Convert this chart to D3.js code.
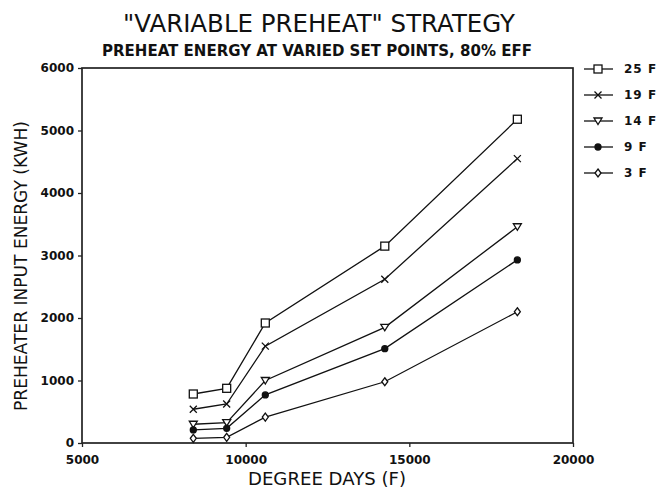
<!DOCTYPE html>
<html><head><meta charset="utf-8">
<script src="https://cdn.jsdelivr.net/npm/d3@7"></script>
<style>body{margin:0;background:#fff}svg{display:block}text{font-family:"DejaVu Sans",sans-serif;fill:#111}</style>
</head><body><svg id="c" width="665" height="493"></svg>
<script>
const degreeDays = [8400, 9420, 10600, 14250, 18300];
const seriesNames = ["25 F", "19 F", "14 F", "9 F", "3 F"];
const s25 = [784, 875, 1920, 3150, 5180];
const s19 = [540, 624, 1550, 2620, 4550];
const s14 = [300, 325, 1000, 1850, 3460];
const s9 = [210, 235, 770, 1510, 2930];
const s3 = [75, 91, 415, 980, 2100];
const xTicks = [5000, 10000, 15000, 20000];
const yTicks = [0, 1000, 2000, 3000, 4000, 5000, 6000];
const markers = ["square", "x", "triangle", "dot", "diamond"];
const series = [s25, s19, s14, s9, s3];

const svg = d3.select("#c");
const x = d3.scaleLinear().domain([5000, 20000]).range([82, 573]);
const y = d3.scaleLinear().domain([0, 6000]).range([443, 68]);

svg.append("rect").attr("x", 82).attr("y", 68).attr("width", 573-82).attr("height", 443-68)
  .attr("fill", "none").attr("stroke", "#222").attr("stroke-width", 1.7);

const xa = svg.append("g").attr("transform", "translate(0,443)")
  .call(d3.axisBottom(x).tickValues(xTicks).tickSize(4).tickPadding(6).tickFormat(d3.format("d")));
const ya = svg.append("g").attr("transform", "translate(82,0)")
  .call(d3.axisLeft(y).tickValues(yTicks).tickSize(4).tickPadding(4).tickFormat(d3.format("d")));
[xa, ya].forEach(a => {
  a.select(".domain").remove();
  a.selectAll("line").attr("stroke", "#222").attr("stroke-width", 1.3);
  a.selectAll("text").attr("font-family", "DejaVu Sans").attr("font-size", 12).attr("font-weight", "bold").attr("fill", "#111");
});
xa.selectAll("text").attr("dy", "0.9em");

function drawMarker(g, type, cx, cy) {
  let m;
  if (type === "square") m = g.append("rect").attr("x", cx-4).attr("y", cy-4).attr("width", 8).attr("height", 8).attr("fill", "#fff");
  else if (type === "x") m = g.append("path").attr("d", `M${cx-3.5},${cy-3.5}L${cx+3.5},${cy+3.5}M${cx-3.5},${cy+3.5}L${cx+3.5},${cy-3.5}`).attr("fill", "none");
  else if (type === "triangle") m = g.append("path").attr("d", `M${cx-4},${cy-3}L${cx+4},${cy-3}L${cx},${cy+3.5}Z`).attr("fill", "#fff");
  else if (type === "dot") m = g.append("circle").attr("cx", cx).attr("cy", cy).attr("r", 3).attr("fill", "#111");
  else m = g.append("path").attr("d", `M${cx},${cy-4}L${cx+3},${cy}L${cx},${cy+4}L${cx-3},${cy}Z`).attr("fill", "#fff");
  m.attr("stroke", "#111").attr("stroke-width", 1.3);
}

const line = d3.line().x((d, i) => x(degreeDays[i])).y(d => y(d));
series.forEach((s, k) => {
  const g = svg.append("g");
  g.append("path").attr("d", line(s)).attr("fill", "none").attr("stroke", "#111").attr("stroke-width", 1.3);
  s.forEach((v, i) => drawMarker(g, markers[k], x(degreeDays[i]), y(v)));
});

const legY = d3.scalePoint().domain(seriesNames).range([69, 173]);
seriesNames.forEach((n, k) => {
  const g = svg.append("g");
  const ly = legY(n);
  g.append("line").attr("x1", 584).attr("x2", 613).attr("y1", ly).attr("y2", ly).attr("stroke", "#111").attr("stroke-width", 1.3);
  drawMarker(g, markers[k], 598, ly);
  g.append("text").attr("x", 624).attr("y", ly).attr("dy", "0.35em").attr("font-size", 12).attr("font-weight", "bold")
    .attr("letter-spacing", "1px").text(n);
});

svg.append("text").attr("x", 319).attr("y", 32).attr("text-anchor", "middle").attr("font-size", 25)
  .attr("textLength", 392).attr("lengthAdjust", "spacingAndGlyphs").text("\"VARIABLE PREHEAT\" STRATEGY");
svg.append("text").attr("x", 317).attr("y", 56).attr("text-anchor", "middle").attr("font-size", 16).attr("font-weight", "bold")
  .attr("textLength", 430).attr("lengthAdjust", "spacingAndGlyphs").text("PREHEAT ENERGY AT VARIED SET POINTS, 80% EFF");
svg.append("text").attr("x", 327).attr("y", 485).attr("text-anchor", "middle").attr("font-size", 17)
  .attr("textLength", 158).attr("lengthAdjust", "spacingAndGlyphs").text("DEGREE DAYS (F)");
svg.append("text").attr("transform", "translate(27,266) rotate(-90)").attr("text-anchor", "middle").attr("font-size", 17)
  .attr("textLength", 290).attr("lengthAdjust", "spacingAndGlyphs").text("PREHEATER INPUT ENERGY (KWH)");
</script></body></html>
